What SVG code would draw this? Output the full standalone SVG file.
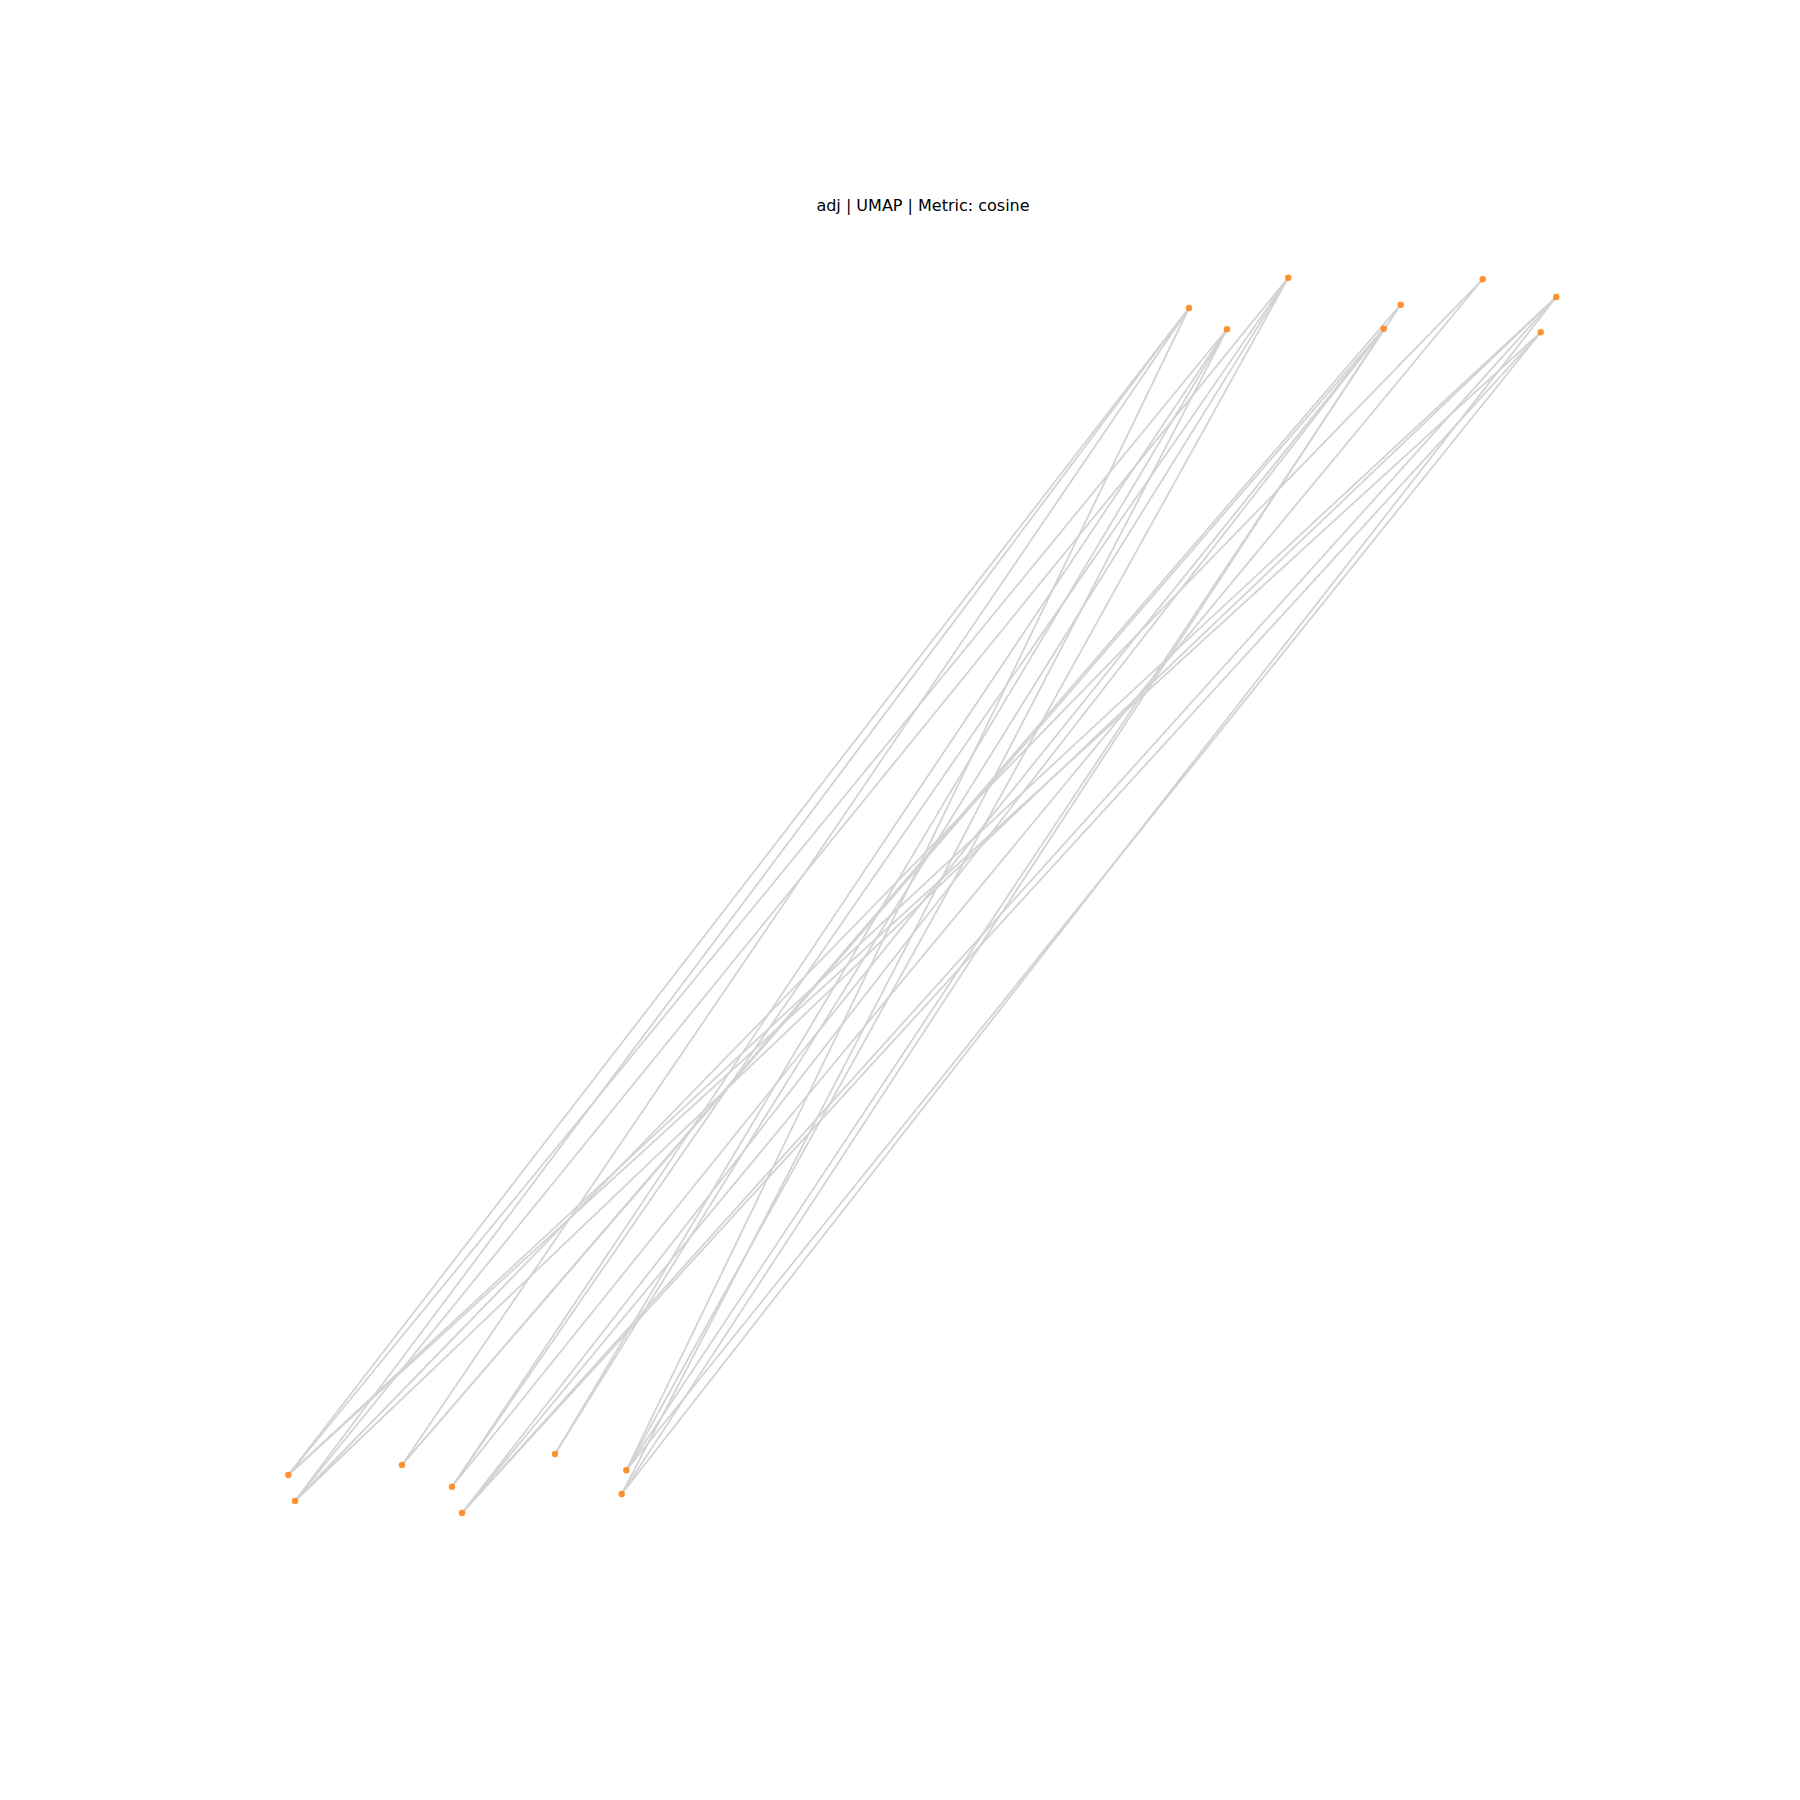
<svg xmlns="http://www.w3.org/2000/svg" width="1800" height="1800" viewBox="0 0 1800 1800">
<style>
.e{stroke:#d3d3d3;stroke-width:1.8;fill:none}
.n{fill:#ff7f0e;opacity:0.85}
.t{font-family:"DejaVu Sans",sans-serif;font-size:16px;fill:#000}
</style>
<rect width="1800" height="1800" fill="#fff"/>
<text class="t" x="923" y="210.5" text-anchor="middle">adj | UMAP | Metric: cosine</text>
<g id="edges">
<line class="e" x1="288.3" y1="1475" x2="1189" y2="308"/>
<line class="e" x1="295" y1="1501" x2="1189" y2="308"/>
<line class="e" x1="402" y1="1465" x2="1189" y2="308"/>
<line class="e" x1="626.3" y1="1470.3" x2="1189" y2="308"/>
<line class="e" x1="288.3" y1="1475" x2="1227" y2="329.3"/>
<line class="e" x1="452" y1="1486.7" x2="1227" y2="329.3"/>
<line class="e" x1="555" y1="1454" x2="1227" y2="329.3"/>
<line class="e" x1="621.7" y1="1494" x2="1227" y2="329.3"/>
<line class="e" x1="295" y1="1501" x2="1288.3" y2="277.7"/>
<line class="e" x1="452" y1="1486.7" x2="1288.3" y2="277.7"/>
<line class="e" x1="555" y1="1454" x2="1288.3" y2="277.7"/>
<line class="e" x1="626.3" y1="1470.3" x2="1288.3" y2="277.7"/>
<line class="e" x1="402" y1="1465" x2="1400.7" y2="304.7"/>
<line class="e" x1="626.3" y1="1470.3" x2="1400.7" y2="304.7"/>
<line class="e" x1="402" y1="1465" x2="1383.7" y2="328.7"/>
<line class="e" x1="452" y1="1486.7" x2="1383.7" y2="328.7"/>
<line class="e" x1="462" y1="1513" x2="1383.7" y2="328.7"/>
<line class="e" x1="621.7" y1="1494" x2="1383.7" y2="328.7"/>
<line class="e" x1="295" y1="1501" x2="1482.7" y2="279.3"/>
<line class="e" x1="462" y1="1513" x2="1482.7" y2="279.3"/>
<line class="e" x1="288.3" y1="1475" x2="1556.3" y2="297"/>
<line class="e" x1="295" y1="1501" x2="1556.3" y2="297"/>
<line class="e" x1="462" y1="1513" x2="1556.3" y2="297"/>
<line class="e" x1="621.7" y1="1494" x2="1556.3" y2="297"/>
<line class="e" x1="288.3" y1="1475" x2="1540.7" y2="332.3"/>
<line class="e" x1="462" y1="1513" x2="1540.7" y2="332.3"/>
<line class="e" x1="626.3" y1="1470.3" x2="1540.7" y2="332.3"/>
</g>
<g id="n_A"><circle class="n" cx="1189" cy="308" r="3.2"/></g>
<g id="n_B"><circle class="n" cx="1227" cy="329.3" r="3.2"/></g>
<g id="n_C"><circle class="n" cx="1288.3" cy="277.7" r="3.2"/></g>
<g id="n_D"><circle class="n" cx="1400.7" cy="304.7" r="3.2"/></g>
<g id="n_E"><circle class="n" cx="1383.7" cy="328.7" r="3.2"/></g>
<g id="n_F"><circle class="n" cx="1482.7" cy="279.3" r="3.2"/></g>
<g id="n_G"><circle class="n" cx="1556.3" cy="297" r="3.2"/></g>
<g id="n_H"><circle class="n" cx="1540.7" cy="332.3" r="3.2"/></g>
<g id="n_a"><circle class="n" cx="288.3" cy="1475" r="3.2"/></g>
<g id="n_b"><circle class="n" cx="295" cy="1501" r="3.2"/></g>
<g id="n_c"><circle class="n" cx="402" cy="1465" r="3.2"/></g>
<g id="n_d"><circle class="n" cx="452" cy="1486.7" r="3.2"/></g>
<g id="n_e"><circle class="n" cx="462" cy="1513" r="3.2"/></g>
<g id="n_f"><circle class="n" cx="555" cy="1454" r="3.2"/></g>
<g id="n_g"><circle class="n" cx="626.3" cy="1470.3" r="3.2"/></g>
<g id="n_h"><circle class="n" cx="621.7" cy="1494" r="3.2"/></g>
</svg>
